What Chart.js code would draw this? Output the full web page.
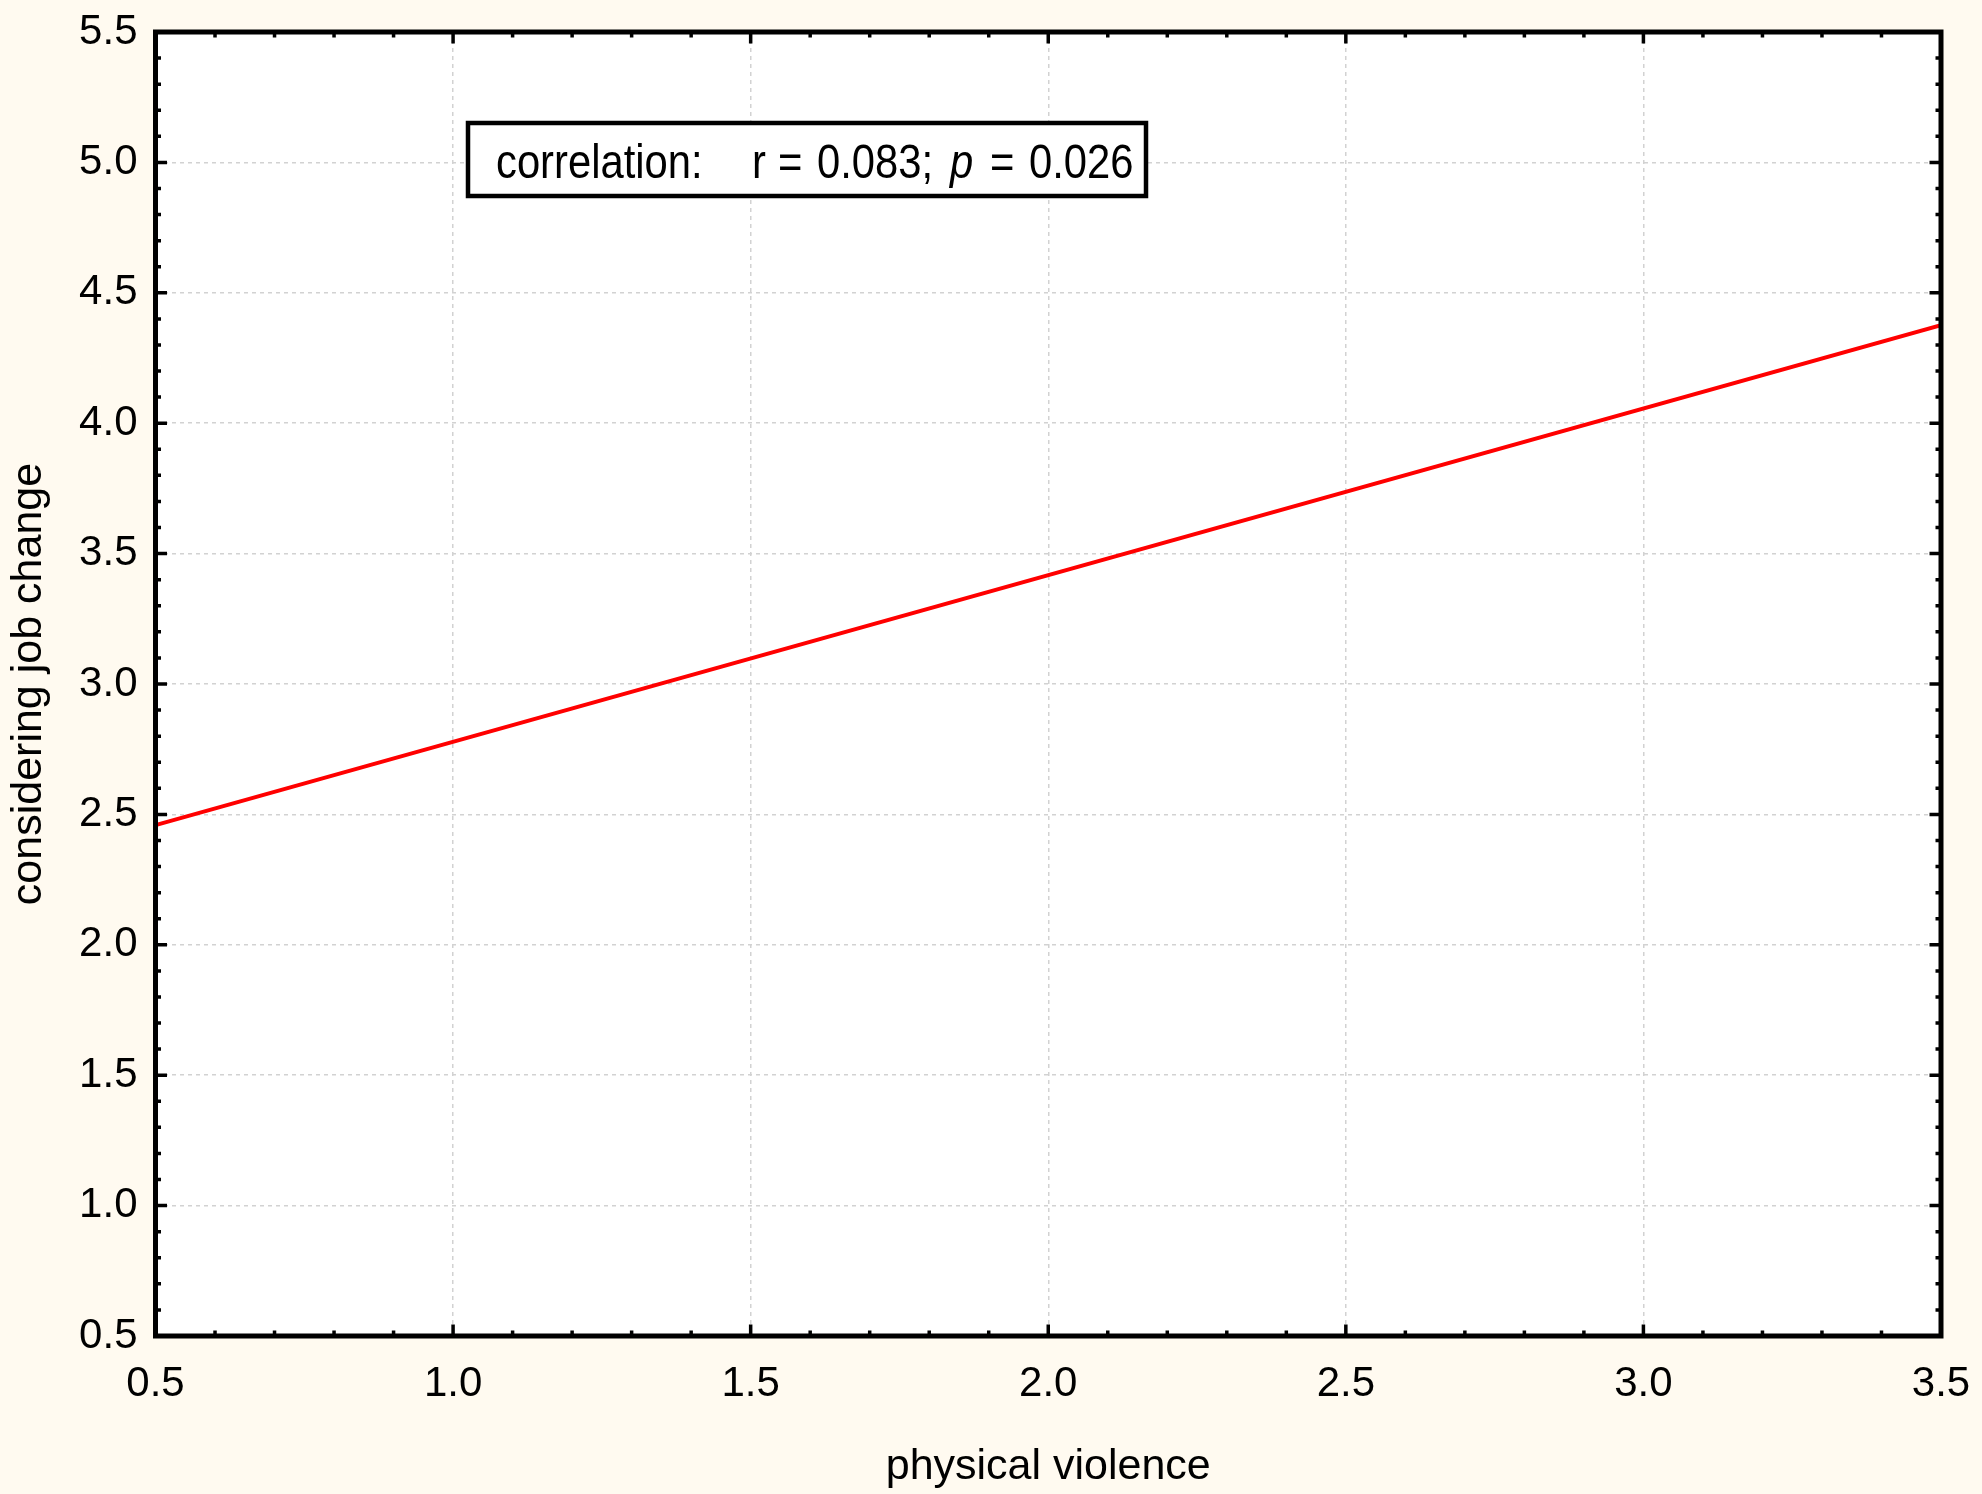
<!DOCTYPE html>
<html>
<head>
<meta charset="utf-8">
<script src="https://cdn.jsdelivr.net/npm/chart.js@4.4.1/dist/chart.umd.min.js"></script>
<style>
  html, body { margin: 0; padding: 0; background: #fffaf0; }
  #wrap { width: 1982px; height: 1494px; }
</style>
</head>
<body>
<div id="wrap"><canvas id="myChart"></canvas></div>
<script>
const violence = [0.5, 3.5];
const jobChange = [2.459, 4.376];
const xTicks = [0.5, 1.0, 1.5, 2.0, 2.5, 3.0, 3.5];
const yTicks = [0.5, 1.0, 1.5, 2.0, 2.5, 3.0, 3.5, 4.0, 4.5, 5.0, 5.5];
const xTitle = 'physical violence';
const yTitle = 'considering job change';
// annotation pieces: [text, x, italic]
const corrParts = [
    ['correlation:', 496, false],
    ['r', 752, false],
    ['=', 778, false],
    ['0.083;', 817, false],
    ['p', 950, true],
    ['=', 990, false],
    ['0.026', 1029, false]
];

const ctx = document.getElementById('myChart');
const font = '"Liberation Sans", Arial, sans-serif';

const backgrounds = {
    id: 'backgrounds',
    beforeDraw(chart) {
        const c = chart.ctx;
        const a = chart.chartArea;
        c.save();
        c.fillStyle = '#fffaf0';
        c.fillRect(0, 0, chart.width, chart.height);
        c.fillStyle = '#ffffff';
        c.fillRect(a.left, a.top, a.right - a.left, a.bottom - a.top);
        c.restore();
    }
};

const frame = {
    id: 'frame',
    afterDraw(chart) {
        const c = chart.ctx;
        const a = chart.chartArea;
        const xs = chart.scales.x;
        const ys = chart.scales.y;
        c.save();
        c.strokeStyle = '#000';
        c.lineCap = 'butt';
        // minor + major ticks on all four sides, pointing inward
        c.lineWidth = 3.5;
        for (let i = 5; i <= 35; i++) {
            const v = i / 10;
            const len = i % 5 === 0 ? 11.5 : 5.5;
            const px = xs.getPixelForValue(v);
            c.beginPath();
            c.moveTo(px, a.bottom); c.lineTo(px, a.bottom - len);
            c.moveTo(px, a.top); c.lineTo(px, a.top + len);
            c.stroke();
        }
        for (let i = 5; i <= 55; i++) {
            const v = i / 10;
            const len = i % 5 === 0 ? 11.5 : 5.5;
            const py = ys.getPixelForValue(v);
            c.beginPath();
            c.moveTo(a.left, py); c.lineTo(a.left + len, py);
            c.moveTo(a.right, py); c.lineTo(a.right - len, py);
            c.stroke();
        }
        c.lineWidth = 5;
        c.strokeRect(a.left, a.top, a.right - a.left, a.bottom - a.top);

        // correlation box
        c.lineWidth = 4.5;
        c.fillStyle = '#fff';
        c.fillRect(468, 123, 678, 73);
        c.strokeRect(468, 123, 678, 73);
        c.fillStyle = '#000';
        c.textBaseline = 'alphabetic';
        c.textAlign = 'left';
        const sx = 0.87;
        const base = 178;
        c.save();
        c.scale(sx, 1);
        corrParts.forEach(([t, x, it]) => {
            c.font = (it ? 'italic ' : '') + '48px ' + font;
            c.fillText(t, x / sx, base);
        });
        c.restore();
        c.restore();
    }
};

function noPad(scale) {
    scale.paddingLeft = 0;
    scale.paddingRight = 0;
    scale.paddingTop = 0;
    scale.paddingBottom = 0;
}

const chart = new Chart(ctx, {
    type: 'scatter',
    data: {
        datasets: [{
            data: violence.map((v, i) => ({ x: v, y: jobChange[i] })),
            showLine: true,
            borderColor: '#ff0000',
            borderWidth: 4,
            pointRadius: 0,
            fill: false
        }]
    },
    options: {
        responsive: true,
        maintainAspectRatio: false,
        animation: false,
        devicePixelRatio: 1,
        layout: {
            padding: { top: 32, right: 41, left: 0, bottom: 0 }
        },
        plugins: {
            legend: { display: false },
            tooltip: { enabled: false }
        },
        scales: {
            x: {
                type: 'linear',
                min: 0.5,
                max: 3.5,
                afterBuildTicks: (scale) => { scale.ticks = xTicks.map(v => ({ value: v })); },
                afterFit: (scale) => { scale.height = 158; noPad(scale); },
                border: { display: false, dash: [4, 4] },
                grid: {
                    color: (c) => (c.tick && (c.tick.value === 0.5 || c.tick.value === 3.5)) ? 'rgba(0,0,0,0)' : '#d2d2d2',
                    lineWidth: 1.5,
                    drawTicks: false
                },
                ticks: {
                    color: '#000',
                    padding: 23,
                    maxRotation: 0,
                    font: { family: font, size: 42 },
                    callback: (v) => Number(v).toFixed(1)
                },
                title: {
                    display: true,
                    text: xTitle,
                    color: '#000',
                    font: { family: font, size: 43 },
                    padding: { top: 0, bottom: 1 }
                }
            },
            y: {
                type: 'linear',
                min: 0.5,
                max: 5.5,
                afterBuildTicks: (scale) => { scale.ticks = yTicks.map(v => ({ value: v })); },
                afterFit: (scale) => { scale.width = 155.5; noPad(scale); },
                border: { display: false, dash: [4, 4] },
                grid: {
                    color: (c) => (c.tick && (c.tick.value === 0.5 || c.tick.value === 5.5)) ? 'rgba(0,0,0,0)' : '#d2d2d2',
                    lineWidth: 1.5,
                    drawTicks: false
                },
                ticks: {
                    color: '#000',
                    padding: 18,
                    font: { family: font, size: 42 },
                    callback: (v) => Number(v).toFixed(1)
                },
                title: {
                    display: true,
                    text: yTitle,
                    color: '#000',
                    font: { family: font, size: 43 },
                    padding: { top: 3, bottom: 0 }
                }
            }
        }
    },
    plugins: [backgrounds, frame]
});
</script>
</body>
</html>
